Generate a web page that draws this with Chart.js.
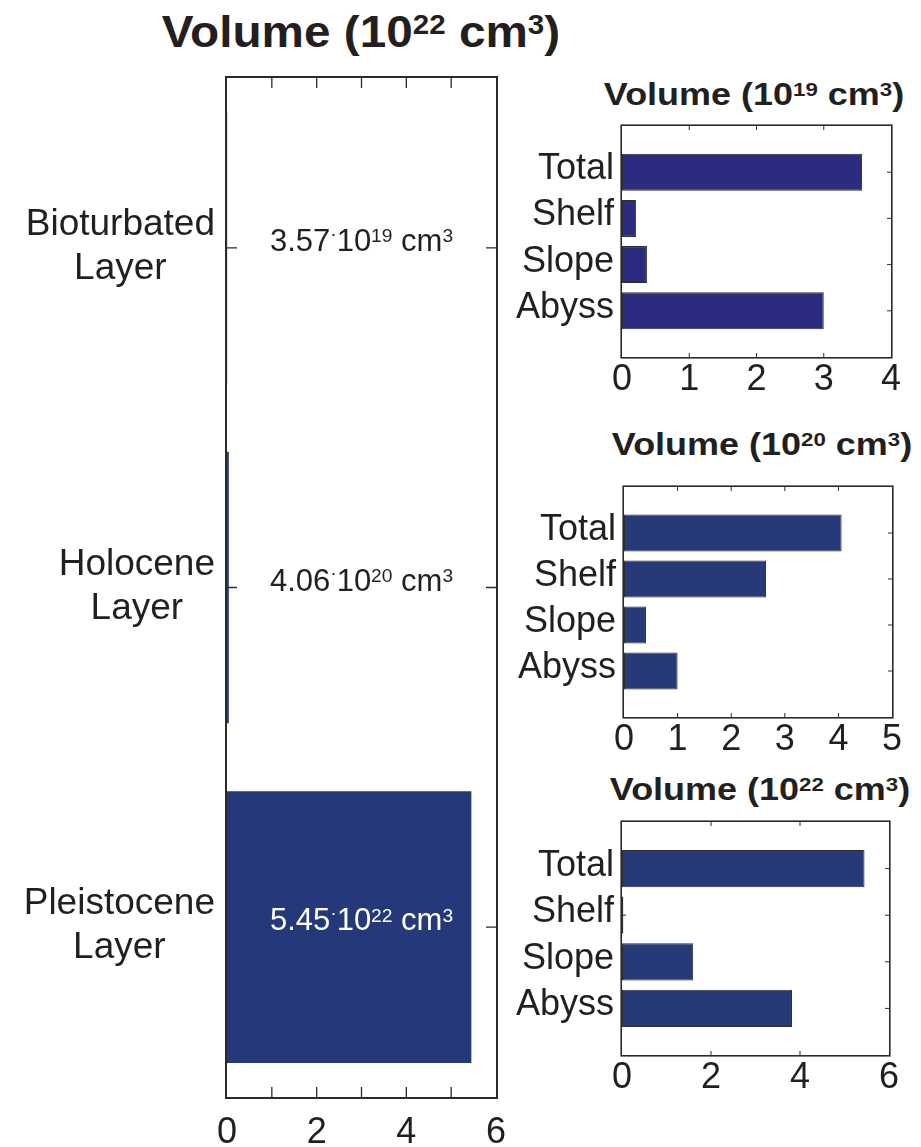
<!DOCTYPE html>
<html>
<head>
<meta charset="utf-8">
<script src="https://cdn.jsdelivr.net/npm/chart.js@4/dist/chart.umd.min.js"></script>
<style>
  body { margin:0; background:#fff; width:921px; height:1147px; position:relative; overflow:hidden;
         font-family:"Liberation Sans", Arial, sans-serif; color:#231f20; }
  .ttl { position:absolute; width:600px; text-align:center; font-weight:bold; white-space:nowrap; transform-origin:50% 50%; }
  .ttl .s { font-size:0.62em; vertical-align:0.45em; line-height:0; }
  .pane { position:absolute; }
  .pane canvas { display:block; }
</style>
</head>
<body>
<div class="ttl" id="title0"></div>
<div class="ttl" id="title1"></div>
<div class="ttl" id="title2"></div>
<div class="ttl" id="title3"></div>
<div class="pane" id="pane0"><canvas id="c0"></canvas></div>
<div class="pane" id="pane1"><canvas id="c1"></canvas></div>
<div class="pane" id="pane2"><canvas id="c2"></canvas></div>
<div class="pane" id="pane3"><canvas id="c3"></canvas></div>
<script>
// ---- data -------------------------------------------------------------
const layerNames = [['Bioturbated', 'Layer'], ['Holocene', 'Layer'], ['Pleistocene', 'Layer']];
const layerMantissa = [3.57, 4.06, 5.45];     // total volume = mantissa · 10^exponent cm^3
const layerExponent = [19, 20, 22];
const mainUnitExponent = 22;                  // main axis in 10^22 cm^3
const mainTickLabels = [0, 2, 4, 6];

const regionNames = ['Total', 'Shelf', 'Slope', 'Abyss'];
const bioturbatedByRegion = [3.57, 0.21, 0.37, 3.00];  // 10^19 cm^3
const holoceneByRegion    = [4.06, 2.65, 0.41, 1.00];  // 10^20 cm^3
const pleistoceneByRegion = [5.45, 0.03, 1.60, 3.82];  // 10^22 cm^3
const panelMax  = [4, 5, 6];
const panelStep = [1, 1, 2];

// ---- styling ----------------------------------------------------------
const FONT = '"Liberation Sans", Arial, sans-serif';
const INK = '#231f20';
const AXIS_FONT = 36;

function placeBox(id, left, top, w, h) {
  const el = document.getElementById(id);
  el.style.left = left + 'px'; el.style.top = top + 'px';
  el.style.width = w + 'px'; el.style.height = h + 'px';
  const cv = el.querySelector('canvas');
  cv.width = w; cv.height = h; cv.style.width = w + 'px'; cv.style.height = h + 'px';
}
function setTitle(id, exp, cx, top, size, sx) {
  const el = document.getElementById(id);
  el.innerHTML = 'Volume (10<span class="s">' + exp + '</span> cm<span class="s">3</span>)';
  el.style.left = (cx - 300) + 'px';
  el.style.top = top + 'px';
  el.style.fontSize = size + 'px';
  el.style.lineHeight = size + 'px';
  el.style.transform = 'scaleX(' + sx + ')';
}

// text with superscripts, drawn centred on cx with the given baseline
function drawRich(ctx, parts, cx, baseline, size, color) {
  const sup = size * 0.62;
  const seg = parts.map(([t, kind]) => {
    const fs = kind === 0 ? size : sup;
    ctx.font = fs + 'px ' + FONT;
    const rise = kind === 0 ? 0 : (kind === 1 ? size * 0.27 : size * 0.36);
    return { t, fs, rise, w: ctx.measureText(t).width };
  });
  const total = seg.reduce((s, p) => s + p.w, 0);
  let x = cx - total / 2;
  ctx.fillStyle = color;
  ctx.textAlign = 'left';
  ctx.textBaseline = 'alphabetic';
  seg.forEach(p => {
    ctx.font = p.fs + 'px ' + FONT;
    ctx.fillText(p.t, x, baseline - p.rise);
    x += p.w;
  });
}
function richWidth(ctx, parts, size) {
  let w = 0;
  parts.forEach(([t, kind]) => {
    ctx.font = (kind === 0 ? size : size * 0.62) + 'px ' + FONT;
    w += ctx.measureText(t).width;
  });
  return w;
}

// box frame (drawn just outside the plot area) plus inward tick marks on all four sides
const framePlugin = {
  id: 'frame',
  beforeDatasetsDraw(chart, args, o) {
    const { ctx, chartArea: a } = chart;
    const xs = chart.scales.x, ys = chart.scales.y;
    ctx.save();
    ctx.strokeStyle = o.color;
    ctx.lineWidth = o.tickWidth;
    ctx.beginPath();
    xs.ticks.forEach((t, i) => {
      const p = xs.getPixelForTick(i);
      if (p <= a.left + 1 || p >= a.right - 1) return;
      ctx.moveTo(p, a.bottom); ctx.lineTo(p, a.bottom - o.len);
      ctx.moveTo(p, a.top); ctx.lineTo(p, a.top + o.len);
    });
    ys.ticks.forEach((t, i) => {
      const p = ys.getPixelForTick(i);
      if (p <= a.top + 1 || p >= a.bottom - 1) return;
      ctx.moveTo(a.left, p); ctx.lineTo(a.left + o.len, p);
      ctx.moveTo(a.right, p); ctx.lineTo(a.right - o.len, p);
    });
    ctx.stroke();
    ctx.restore();
  },
  afterDatasetsDraw(chart, args, o) {
    const { ctx, chartArea: a } = chart;
    const h = o.width / 2;
    ctx.save();
    ctx.strokeStyle = o.color;
    ctx.lineWidth = o.width;
    ctx.strokeRect(a.left - h, a.top - h, a.right - a.left + o.width, a.bottom - a.top + o.width);
    ctx.restore();
  }
};

const mainVolume = layerMantissa.map((m, i) => m * Math.pow(10, layerExponent[i] - mainUnitExponent));

// layer names (right-aligned block, lines centred within it) and value labels
const layerLabelPlugin = {
  id: 'layerLabels',
  afterDraw(chart) {
    const { ctx, chartArea: a } = chart;
    const ys = chart.scales.y, xs = chart.scales.x;
    const size = 37, lh = 44, vsize = 31;
    ctx.save();
    layerNames.forEach((lines, i) => {
      const p = ys.getPixelForTick(i);
      ctx.font = size + 'px ' + FONT;
      const bw = Math.max(...lines.map(l => ctx.measureText(l).width));
      const cx = a.left - 12 - bw / 2;
      ctx.fillStyle = INK;
      ctx.textAlign = 'center';
      ctx.textBaseline = 'middle';
      lines.forEach((l, k) => {
        ctx.fillText(l, cx, p - 1 + (k - (lines.length - 1) / 2) * lh);
      });
      // value label, white where it sits on the bar
      const parts = [[layerMantissa[i].toFixed(2), 0], ['\u00b7', 2], ['10', 0],
                     [String(layerExponent[i]), 1], [' cm', 0], ['3', 1]];
      const cxv = (a.left + a.right) / 2;
      const labelLeft = cxv - richWidth(ctx, parts, vsize) / 2;
      const barEnd = xs.getPixelForValue(mainVolume[i]);
      drawRich(ctx, parts, cxv, p + 3, vsize, barEnd > labelLeft ? '#ffffff' : INK);
    });
    ctx.restore();
  }
};

function fixWidth(w) {
  return s => { s.width = w; s.paddingTop = 0; s.paddingBottom = 0; s.paddingLeft = 0; s.paddingRight = 0; };
}
function fixHeight(h) {
  return s => { s.height = h; s.paddingTop = 0; s.paddingBottom = 0; s.paddingLeft = 0; s.paddingRight = 0; };
}

Chart.defaults.font.family = FONT;
Chart.defaults.color = INK;

// ---- main panel: total volume per layer ------------------------------
setTitle('title0', mainUnitExponent, 360.5, 9, 45, 1.06);
placeBox('pane0', 0, 60, 520, 1087);
new Chart(document.getElementById('c0'), {
  type: 'bar',
  data: {
    labels: layerNames,
    datasets: [{
      data: mainVolume,
      backgroundColor: '#25387a',
      borderWidth: 0,
      barPercentage: 0.8,
      categoryPercentage: 1.0
    }]
  },
  options: {
    indexAxis: 'y',
    responsive: false,
    animation: false,
    devicePixelRatio: 1,
    layout: { padding: { top: 18, right: 24, left: 0, bottom: 0 } },
    plugins: {
      legend: { display: false },
      tooltip: { enabled: false },
      frame: { color: '#2a2a2a', width: 2, tickWidth: 1.3, len: 10 }
    },
    scales: {
      y: {
        type: 'category',
        offset: true,
        grid: { display: false, drawTicks: false },
        border: { display: false },
        ticks: { display: false },
        afterFit: fixWidth(227)
      },
      x: {
        type: 'linear',
        min: 0, max: 6,
        grid: { display: false, drawTicks: false },
        border: { display: false },
        ticks: {
          stepSize: 1,
          padding: 14,
          font: { size: AXIS_FONT },
          color: INK,
          maxRotation: 0,
          autoSkip: false,
          callback: v => mainTickLabels.includes(v) ? String(v) : ''
        },
        afterFit: fixHeight(50)
      }
    }
  },
  plugins: [framePlugin, layerLabelPlugin]
});

// ---- regional breakdown panels ---------------------------------------
const panels = [
  { pane: 'pane1', data: bioturbatedByRegion, color: '#2b2b7f',
    box: [500, 110, 421, 290], yw: 122, pad: { top: 16, right: 30 }, xh: 43,
    title: ['title1', 753.5, 79] },
  { pane: 'pane2', data: holoceneByRegion, color: '#263a7a',
    box: [500, 470, 421, 300], yw: 124, pad: { top: 17, right: 29 }, xh: 53,
    title: ['title2', 761.5, 429] },
  { pane: 'pane3', data: pleistoceneByRegion, color: '#263a7a',
    box: [500, 805, 421, 342], yw: 122, pad: { top: 17, right: 32 }, xh: 92,
    title: ['title3', 760, 774] }
];

panels.forEach((pn, k) => {
  setTitle(pn.title[0], layerExponent[k], pn.title[1], pn.title[2], 31, 1.16);
  placeBox(pn.pane, ...pn.box);
  const canvas = document.getElementById(pn.pane).querySelector('canvas');
  new Chart(canvas, {
    type: 'bar',
    data: {
      datasets: [{
        data: pn.data.map((v, i) => ({ x: v, y: i + 1 })),
        backgroundColor: pn.color,
        borderColor: '#2e2e2e',
        borderWidth: 1,
        borderSkipped: false,
        barPercentage: 0.8,
        categoryPercentage: 1.0
      }]
    },
    options: {
      indexAxis: 'y',
      responsive: false,
      animation: false,
      devicePixelRatio: 1,
      layout: { padding: { top: pn.pad.top, right: pn.pad.right, left: 0, bottom: 0 } },
      plugins: {
        legend: { display: false },
        tooltip: { enabled: false },
        frame: { color: '#2a2a2a', width: 1.6, tickWidth: 1, len: 4 }
      },
      scales: {
        y: {
          type: 'linear',
          min: 0, max: regionNames.length + 1,
          reverse: true,
          offset: false,
          grid: { display: false, drawTicks: false },
          border: { display: false },
          ticks: {
            stepSize: 1,
            padding: 8,
            labelOffset: -3,
            crossAlign: 'near',
            font: { size: AXIS_FONT },
            color: INK,
            autoSkip: false,
            callback: v => regionNames[v - 1] || ''
          },
          afterFit: fixWidth(pn.yw)
        },
        x: {
          type: 'linear',
          min: 0, max: panelMax[k],
          grid: { display: false, drawTicks: false },
          border: { display: false },
          ticks: {
            stepSize: panelStep[k],
            padding: 1,
            font: { size: AXIS_FONT },
            color: INK,
            maxRotation: 0,
            autoSkip: false
          },
          afterFit: fixHeight(pn.xh)
        }
      }
    },
    plugins: [framePlugin]
  });
});
</script>
</body>
</html>
